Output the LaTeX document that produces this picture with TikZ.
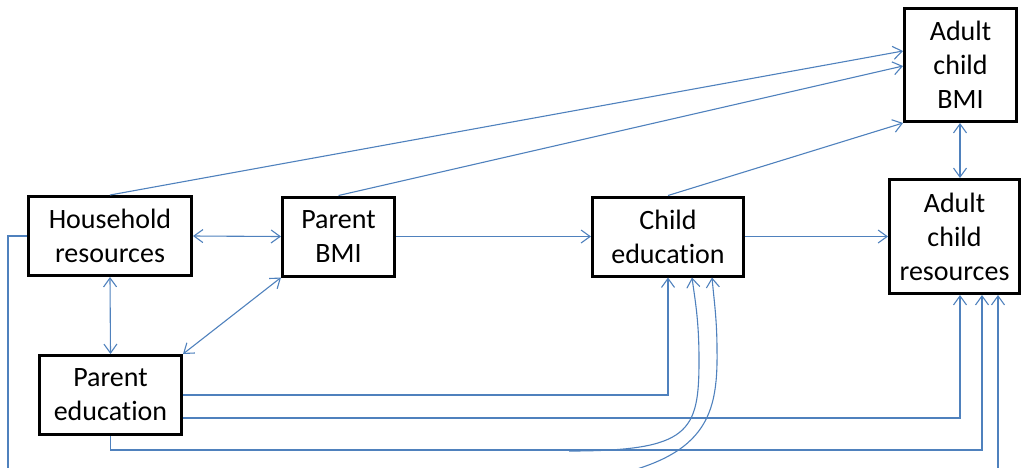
\documentclass[tikz,border=0pt]{standalone}
\usepackage{fontspec}
\setmainfont{Carlito}[Ligatures=NoCommon]
\usetikzlibrary{arrows.meta}
\definecolor{lnblue}{RGB}{79,129,189}
\begin{document}
\begin{tikzpicture}[x=1pt,y=-1pt,
  box/.style={draw=black,line width=3pt,fill=white,align=center,inner sep=0pt,
    font=\fontsize{28}{34}\selectfont},
  conn/.style={draw=lnblue,line width=1.1pt},
  >={Straight Barb[length=9pt,width=13pt]}]
\useasboundingbox (0,0) rectangle (1024,467);
\clip (0,0) rectangle (1024,467);
% nodes
\node[box,minimum width=163pt,minimum height=79pt] (hh) at (110,236) {Household\\resources};
\node[box,minimum width=112pt,minimum height=79pt] (pbmi) at (338.5,236.5) {Parent\\BMI};
\node[box,minimum width=151pt,minimum height=79pt] (ce) at (668,236.5) {Child\\education};
\node[box,minimum width=112pt,minimum height=113pt] (acb) at (960.5,65) {Adult\\child\\BMI};
\node[box,minimum width=130pt,minimum height=114pt] (acr) at (954.5,236.5) {Adult\\child\\resources};
\node[box,minimum width=142pt,minimum height=79pt] (pe) at (110.5,395) {Parent\\education};
% top connectors
\draw[conn,->] (hh.north) -- (acb.west |- 0,51);
\draw[conn,->] (pbmi.north) -- (acb.west |- 0,66);
\draw[conn,->] (ce.north) -- (acb.south west);
% horizontal row
\draw[conn,<->] (hh.east) -- (pbmi.west);
\draw[conn,->] (pbmi.east) -- (ce.west);
\draw[conn,->] (ce.east) -- (acr.west);
\draw[conn,<->] (acb.south -| 960,0) -- (acr.north -| 960,0);
% household - parent education
\draw[conn,<->] (hh.south) -- (pe.north);
\draw[conn,<->] (pbmi.south west) -- (pe.north east);
% parent education routes
\draw[conn,->] (pe.east) -| (ce.south);
\draw[conn,->] (pe.east |- 0,418) -| (acr.south -| 960,0);
\draw[conn,->] (pe.south) -- ++(0,14) -| (acr.south -| 982,0);
\coordinate (ca) at (569,451);
\draw[conn,->] (ca) .. controls (690,451) and (699,432) .. (699,360)
  .. controls (699,320) and (695,300) .. (ce.south -| 692,0);
% household resources route
\coordinate (hb) at (8,482);
\draw[conn,->] (hh.west) -- (8,236) -- (hb) -| (acr.south -| 998,0);
\coordinate (cb) at (575,482);
\draw[conn,->] (cb) .. controls (705,464) and (718,420) .. (717,350)
  .. controls (717,320) and (714,300) .. (ce.south -| 712,0);
\end{tikzpicture}
\end{document}
